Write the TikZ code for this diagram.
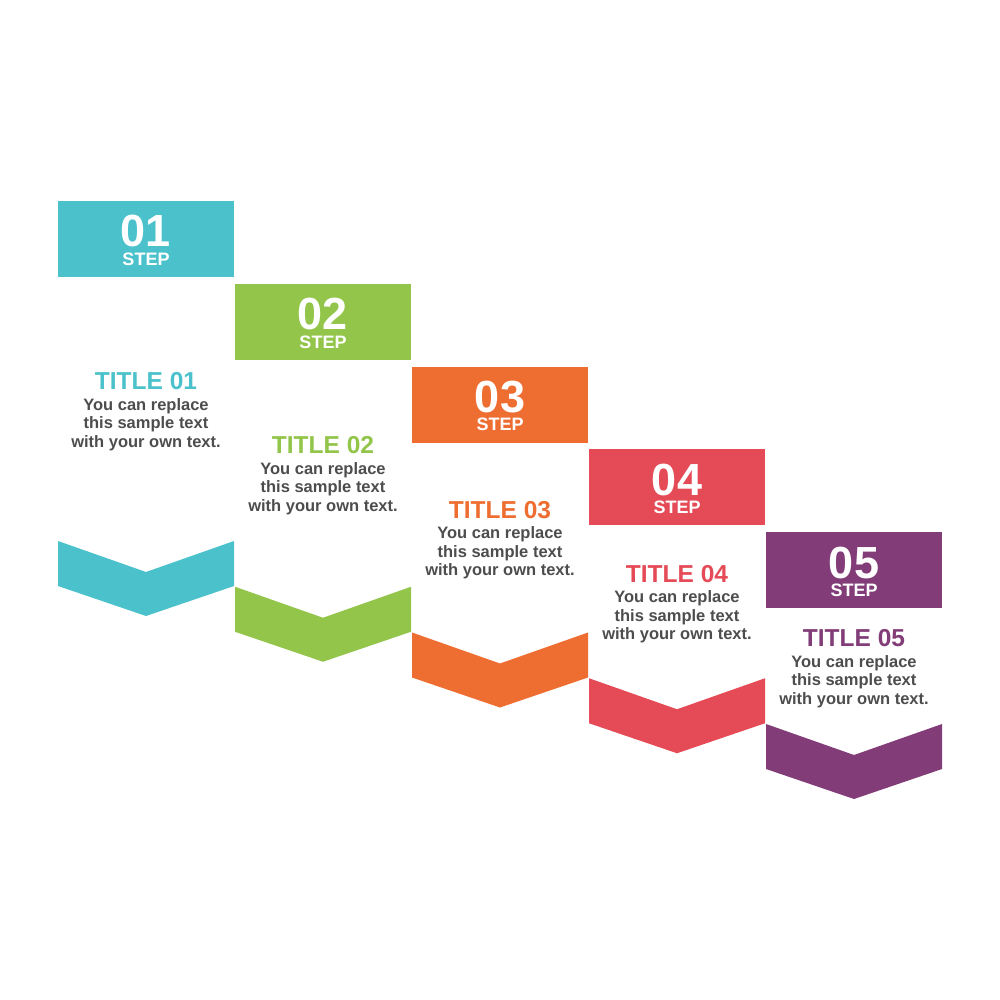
\documentclass[tikz,border=0pt]{standalone}
\usepackage{fontspec}
\setmainfont{Liberation Sans}
\definecolor{cteal}{HTML}{4BC2CB}
\definecolor{cgreen}{HTML}{92C54A}
\definecolor{corange}{HTML}{EE6E31}
\definecolor{cred}{HTML}{E54A57}
\definecolor{cpurple}{HTML}{823D78}
\definecolor{cbody}{HTML}{4D4D4D}
\tikzset{
  numtxt/.style={text=white, font=\bfseries\fontsize{45}{45}\selectfont, inner sep=0pt, anchor=base},
  steptxt/.style={text=white, font=\bfseries\fontsize{18}{18}\selectfont, inner sep=0pt, anchor=base},
  titletxt/.style={font=\bfseries\fontsize{24.5}{24.5}\selectfont, inner sep=0pt, anchor=base},
  bodytxt/.style={text=cbody, font=\bfseries\fontsize{16.5}{18.5}\selectfont, inner sep=0pt, align=center},
}
\begin{document}
\begin{tikzpicture}[x=1pt,y=-1pt]
\useasboundingbox[fill=white] (0,0) rectangle (1000,1000);
\foreach \i/\c/\n in {0/cteal/01,1/cgreen/02,2/corange/03,3/cred/04,4/cpurple/05}{
  \pgfmathsetmacro{\xa}{58+177*\i}
  \pgfmathsetmacro{\xb}{\xa+176}
  \pgfmathsetmacro{\xm}{\xa+88}
  \pgfmathsetmacro{\bt}{201+82.75*\i}
  \pgfmathsetmacro{\ct}{541+45.75*\i}
  \pgfmathsetmacro{\ty}{381+64.25*\i}
  % box
  \fill[\c] (\xa,\bt) rectangle (\xb,\bt+76);
  \node[numtxt] (num\n) at (\xm,\bt+46) {\n};
  \node[steptxt] (step\n) at (\xm,\bt+64.3) {STEP};
  % chevron
  \fill[\c] (\xa,\ct) -- (\xm,\ct+31) -- (\xb,\ct) -- (\xb,\ct+45) -- (\xm,\ct+75) -- (\xa,\ct+45) -- cycle;
  % texts
  \node[titletxt, text=\c] (title\n) at (\xm,\ty+8.6) {TITLE \n};
  \node[bodytxt] (body\n) at (\xm,\ty+43.3) {You can replace\\this sample text\\with your own text.};
}
\end{tikzpicture}
\end{document}
